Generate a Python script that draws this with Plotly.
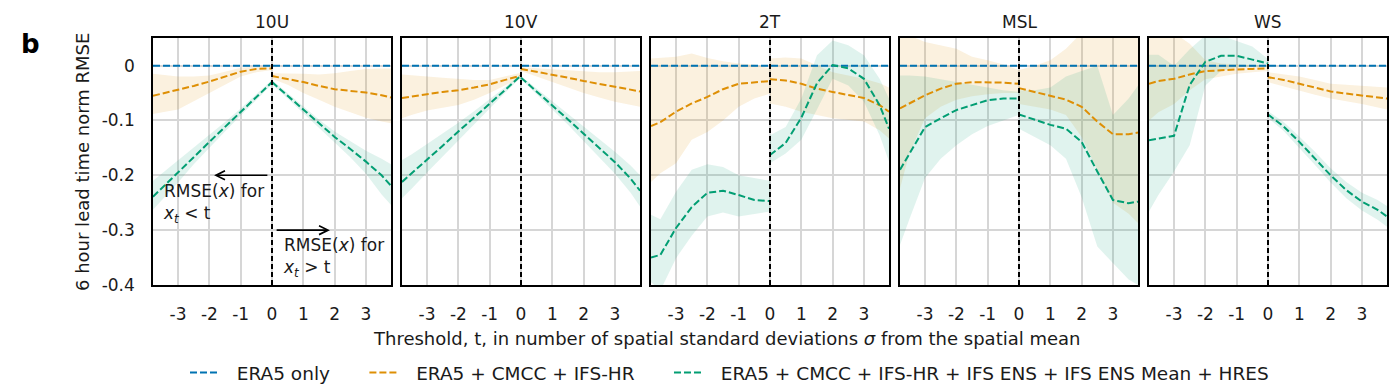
import plotly.graph_objects as go

# ---------------- data ----------------
PANELS = ["10U", "10V", "2T", "MSL", "WS"]
X_LEFT = [-3.8, -3.5, -3.0, -2.5, -2.0, -1.5, -1.0, -0.5, 0.0]
X_RIGHT = [0.0, 0.5, 1.0, 1.5, 2.0, 2.5, 3.0, 3.5, 3.8]
X_TICKS = [-3, -2, -1, 0, 1, 2, 3]
X_TICK_TEXT = ["-3", "-2", "-1", "0", "1", "2", "3"]
Y_TICKS = [0, -0.1, -0.2, -0.3, -0.4]
Y_TICK_TEXT = ["0", "-0.1", "-0.2", "-0.3", "-0.4"]
ERA5_ONLY = [0.0, 0.0]
ERA5_X = [-3.8, 3.8]

# each list: 9 left-side values (x_t < t) then 9 right-side values (x_t > t)
U10_CMCC = [-0.055, -0.051, -0.045, -0.037, -0.029, -0.020, -0.011, -0.006, -0.005,
            -0.019, -0.024, -0.030, -0.037, -0.043, -0.046, -0.049, -0.054, -0.058]
U10_CMCC_LO = [-0.088, -0.085, -0.080, -0.065, -0.050, -0.035, -0.020, -0.012, -0.008,
               -0.024, -0.035, -0.050, -0.062, -0.075, -0.085, -0.095, -0.102, -0.105]
U10_CMCC_HI = [-0.015, -0.017, -0.020, -0.020, -0.018, -0.011, -0.004, -0.002, -0.002,
               -0.014, -0.014, -0.015, -0.016, -0.014, -0.010, -0.006, -0.005, -0.005]
U10_ALL = [-0.239, -0.222, -0.195, -0.167, -0.139, -0.112, -0.085, -0.057, -0.030,
           -0.030, -0.055, -0.080, -0.105, -0.130, -0.152, -0.175, -0.200, -0.219]
U10_ALL_LO = [-0.263, -0.245, -0.213, -0.180, -0.150, -0.120, -0.091, -0.062, -0.034,
              -0.034, -0.060, -0.086, -0.113, -0.140, -0.167, -0.197, -0.235, -0.254]
U10_ALL_HI = [-0.210, -0.196, -0.173, -0.150, -0.126, -0.103, -0.078, -0.052, -0.026,
              -0.026, -0.050, -0.074, -0.098, -0.120, -0.138, -0.155, -0.170, -0.180]

V10_CMCC = [-0.059, -0.056, -0.052, -0.048, -0.045, -0.040, -0.034, -0.026, -0.018,
            -0.006, -0.011, -0.017, -0.022, -0.028, -0.033, -0.039, -0.044, -0.047]
V10_CMCC_LO = [-0.096, -0.090, -0.082, -0.077, -0.072, -0.062, -0.050, -0.036, -0.022,
               -0.010, -0.020, -0.030, -0.040, -0.050, -0.058, -0.066, -0.072, -0.075]
V10_CMCC_HI = [-0.016, -0.018, -0.020, -0.022, -0.024, -0.026, -0.026, -0.020, -0.013,
               -0.003, -0.005, -0.006, -0.008, -0.010, -0.012, -0.012, -0.010, -0.010]
V10_ALL = [-0.212, -0.197, -0.171, -0.146, -0.120, -0.095, -0.069, -0.044, -0.018,
           -0.022, -0.047, -0.072, -0.098, -0.124, -0.150, -0.176, -0.206, -0.228]
V10_ALL_LO = [-0.242, -0.225, -0.195, -0.166, -0.136, -0.107, -0.078, -0.049, -0.021,
              -0.025, -0.052, -0.080, -0.108, -0.137, -0.167, -0.197, -0.232, -0.257]
V10_ALL_HI = [-0.172, -0.162, -0.143, -0.124, -0.104, -0.083, -0.061, -0.039, -0.015,
              -0.019, -0.042, -0.065, -0.088, -0.111, -0.134, -0.157, -0.182, -0.200]

T2_CMCC = [-0.110, -0.103, -0.084, -0.069, -0.057, -0.043, -0.033, -0.030, -0.028,
           -0.025, -0.027, -0.033, -0.042, -0.048, -0.053, -0.059, -0.072, -0.084]
T2_CMCC_LO = [-0.212, -0.196, -0.178, -0.135, -0.121, -0.100, -0.075, -0.060, -0.051,
              -0.069, -0.075, -0.084, -0.090, -0.096, -0.099, -0.102, -0.118, -0.133]
T2_CMCC_HI = [0.013, 0.014, 0.016, 0.022, 0.014, 0.008, 0.004, 0.002, -0.005,
              0.013, 0.015, 0.013, 0.000, -0.012, -0.018, -0.024, -0.032, -0.040]
T2_ALL = [-0.350, -0.345, -0.296, -0.258, -0.232, -0.228, -0.236, -0.245, -0.247,
          -0.163, -0.141, -0.095, -0.032, 0.001, -0.005, -0.024, -0.072, -0.115]
T2_ALL_LO = [-0.395, -0.410, -0.351, -0.310, -0.275, -0.268, -0.275, -0.270, -0.266,
             -0.178, -0.160, -0.135, -0.080, -0.024, -0.036, -0.066, -0.127, -0.175]
T2_ALL_HI = [-0.272, -0.280, -0.230, -0.190, -0.180, -0.185, -0.200, -0.205, -0.210,
             -0.127, -0.112, -0.060, 0.019, 0.046, 0.037, 0.019, -0.024, -0.060]

MSL_CMCC = [-0.078, -0.069, -0.054, -0.042, -0.033, -0.030, -0.030, -0.031, -0.033,
            -0.041, -0.048, -0.056, -0.062, -0.075, -0.102, -0.125, -0.125, -0.122]
MSL_CMCC_LO = [-0.224, -0.160, -0.096, -0.075, -0.062, -0.056, -0.052, -0.050, -0.050,
               -0.070, -0.075, -0.080, -0.090, -0.130, -0.190, -0.250, -0.270, -0.287]
MSL_CMCC_HI = [0.060, 0.055, 0.043, 0.037, 0.031, 0.016, 0.010, 0.002, -0.008,
               -0.008, 0.000, 0.010, 0.031, 0.060, 0.060, 0.060, 0.060, 0.060]
MSL_ALL = [-0.190, -0.160, -0.112, -0.096, -0.081, -0.072, -0.063, -0.060, -0.060,
           -0.089, -0.099, -0.108, -0.115, -0.139, -0.193, -0.245, -0.251, -0.248]
MSL_ALL_LO = [-0.327, -0.280, -0.205, -0.170, -0.145, -0.125, -0.110, -0.100, -0.090,
              -0.115, -0.130, -0.145, -0.170, -0.240, -0.330, -0.360, -0.390, -0.400]
MSL_ALL_HI = [-0.018, -0.018, -0.020, -0.025, -0.030, -0.035, -0.040, -0.045, -0.048,
              -0.045, -0.045, -0.040, -0.020, -0.010, 0.000, -0.090, -0.060, -0.036]

WS_CMCC = [-0.033, -0.028, -0.024, -0.016, -0.010, -0.008, -0.007, -0.006, -0.005,
           -0.021, -0.026, -0.033, -0.040, -0.047, -0.051, -0.054, -0.058, -0.060]
WS_CMCC_LO = [-0.100, -0.085, -0.070, -0.045, -0.025, -0.020, -0.015, -0.012, -0.010,
              -0.030, -0.037, -0.045, -0.053, -0.060, -0.065, -0.070, -0.076, -0.080]
WS_CMCC_HI = [0.060, 0.060, 0.060, 0.040, 0.010, 0.004, 0.002, 0.001, 0.000,
              -0.012, -0.016, -0.020, -0.026, -0.033, -0.035, -0.037, -0.039, -0.040]
WS_ALL = [-0.136, -0.133, -0.128, -0.035, 0.007, 0.018, 0.018, 0.011, 0.004,
          -0.089, -0.111, -0.139, -0.169, -0.200, -0.227, -0.248, -0.263, -0.275]
WS_ALL_LO = [-0.266, -0.236, -0.193, -0.145, -0.036, -0.010, -0.003, -0.002, -0.002,
             -0.095, -0.119, -0.149, -0.181, -0.213, -0.242, -0.264, -0.281, -0.294]
WS_ALL_HI = [0.020, 0.020, 0.000, 0.030, 0.055, 0.055, 0.045, 0.035, 0.012,
             -0.083, -0.103, -0.129, -0.157, -0.187, -0.212, -0.232, -0.245, -0.256]

SERIES_NAMES = ["ERA5 only", "ERA5 + CMCC + IFS-HR",
                "ERA5 + CMCC + IFS-HR + IFS ENS + IFS ENS Mean + HRES"]

PANEL_DATA = [
    (U10_CMCC, U10_CMCC_LO, U10_CMCC_HI, U10_ALL, U10_ALL_LO, U10_ALL_HI),
    (V10_CMCC, V10_CMCC_LO, V10_CMCC_HI, V10_ALL, V10_ALL_LO, V10_ALL_HI),
    (T2_CMCC, T2_CMCC_LO, T2_CMCC_HI, T2_ALL, T2_ALL_LO, T2_ALL_HI),
    (MSL_CMCC, MSL_CMCC_LO, MSL_CMCC_HI, MSL_ALL, MSL_ALL_LO, MSL_ALL_HI),
    (WS_CMCC, WS_CMCC_LO, WS_CMCC_HI, WS_ALL, WS_ALL_LO, WS_ALL_HI),
]

# ---------------- style ----------------
BLUE = "#0173b2"
ORANGE = "#de8f05"
GREEN = "#029e73"
ORANGE_FILL = "rgba(222,143,5,0.13)"
GREEN_FILL = "rgba(2,158,115,0.12)"
FONT = "DejaVu Sans"
TXT = "#1a1a1a"
DASH = "7px,3px"
NB = "\u00a0"

W, H = 1400, 391
PANEL_LEFT = [153, 402, 651, 900, 1149]
PANEL_W = 238
Y_DOM = [1 - 285 / H, 1 - 38 / H]
X_RANGE = [-3.8, 3.8]
Y_RANGE = [-0.4, 0.0504]

fig = go.Figure()
n = len(X_LEFT)


def band(xs, lo, hi):
    return xs + xs[::-1], hi + lo[::-1]


def legend_label(name):
    return NB * 2 + name + NB * 5


for i, (cm, cm_lo, cm_hi, al, al_lo, al_hi) in enumerate(PANEL_DATA):
    xa = "x" if i == 0 else f"x{i + 1}"
    ya = "y" if i == 0 else f"y{i + 1}"
    # bands
    for (lo, hi, fc) in [(cm_lo, cm_hi, ORANGE_FILL), (al_lo, al_hi, GREEN_FILL)]:
        for sl, xs in [(slice(0, n), X_LEFT), (slice(n, 2 * n), X_RIGHT)]:
            bx, by = band(xs, lo[sl], hi[sl])
            fig.add_trace(go.Scatter(x=bx, y=by, fill="toself", fillcolor=fc,
                                     line=dict(width=0), mode="lines",
                                     hoverinfo="skip", showlegend=False,
                                     xaxis=xa, yaxis=ya))
    # ERA5 only
    fig.add_trace(go.Scatter(x=ERA5_X, y=ERA5_ONLY, mode="lines",
                             line=dict(color=BLUE, width=2, dash=DASH),
                             name=legend_label(SERIES_NAMES[0]), showlegend=(i == 0),
                             xaxis=xa, yaxis=ya))
    for vals, col, nm in [(cm, ORANGE, SERIES_NAMES[1]), (al, GREEN, SERIES_NAMES[2])]:
        xs = X_LEFT + [None] + X_RIGHT
        ys = vals[:n] + [None] + vals[n:]
        fig.add_trace(go.Scatter(x=xs, y=ys, mode="lines",
                                 line=dict(color=col, width=2, dash=DASH),
                                 name=legend_label(nm), showlegend=(i == 0),
                                 connectgaps=False, xaxis=xa, yaxis=ya))
    # vertical threshold line
    fig.add_shape(type="line", xref=xa, yref=f"{ya} domain", x0=0, x1=0, y0=0, y1=1,
                  line=dict(color="black", width=2, dash="5px,3px"), layer="above")

    left = PANEL_LEFT[i] / W
    right = (PANEL_LEFT[i] + PANEL_W) / W
    axkey = "xaxis" if i == 0 else f"xaxis{i + 1}"
    aykey = "yaxis" if i == 0 else f"yaxis{i + 1}"
    fig.update_layout({
        axkey: dict(domain=[left, right], range=X_RANGE, anchor=ya,
                    tickvals=X_TICKS, ticktext=X_TICK_TEXT,
                    showgrid=True, gridcolor="#d6d6d6", gridwidth=1.6,
                    showline=True, mirror=True, linecolor="black", linewidth=1.5,
                    zeroline=False, ticks="", ticklabelstandoff=13,
                    tickfont=dict(size=17, color=TXT, family=FONT)),
        aykey: dict(domain=Y_DOM, range=Y_RANGE, anchor=xa,
                    tickvals=Y_TICKS, ticktext=Y_TICK_TEXT,
                    showticklabels=(i == 0),
                    showgrid=True, gridcolor="#d6d6d6", gridwidth=1.6,
                    showline=True, mirror=True, linecolor="black", linewidth=1.5,
                    zeroline=False, ticks="", ticklabelstandoff=13,
                    tickfont=dict(size=17, color=TXT, family=FONT)),
    })
    # panel title
    fig.add_annotation(x=(left + right) / 2, y=1 - 22 / H, xref="paper", yref="paper",
                       xanchor="center", yanchor="middle",
                       text=PANELS[i], showarrow=False,
                       font=dict(size=17, color=TXT, family=FONT))

# arrows and explanatory text in first panel
fig.add_annotation(x=-1.85, y=-0.2, ax=-0.1, ay=-0.2, xref="x", yref="y",
                   axref="x", ayref="y", text="", showarrow=True,
                   arrowhead=5, arrowsize=1.1, arrowwidth=1.6, arrowcolor="black",
                   standoff=0, startstandoff=0)
fig.add_annotation(x=1.85, y=-0.3, ax=0.1, ay=-0.3, xref="x", yref="y",
                   axref="x", ayref="y", text="", showarrow=True,
                   arrowhead=5, arrowsize=1.1, arrowwidth=1.6, arrowcolor="black",
                   standoff=0, startstandoff=0)
NOTE_FONT = dict(size=17, color=TXT, family=FONT)
for xx, yy, txt in [(-3.55, -0.2515, "RMSE(<i>x</i>) for<br><i>x<sub>t</sub></i> &lt; t"),
                    (0.30, -0.3496, "RMSE(<i>x</i>) for<br><i>x<sub>t</sub></i> &gt; t")]:
    fig.add_annotation(x=xx, y=yy, xref="x", yref="y", xanchor="left", yanchor="middle",
                       align="left", showarrow=False, text=txt, font=NOTE_FONT)

# axis titles and panel letter
fig.add_annotation(x=82 / W, y=1 - 162 / H, xref="paper", yref="paper",
                   xanchor="center", yanchor="middle",
                   text="6 hour lead time norm RMSE", textangle=-90, showarrow=False,
                   font=dict(size=18, color=TXT, family=FONT))
fig.add_annotation(x=727 / W, y=1 - 338 / H, xref="paper", yref="paper",
                   xanchor="center", yanchor="middle",
                   text="Threshold, t, in number of spatial standard deviations <i>σ</i> from the spatial mean",
                   showarrow=False, font=dict(size=18, color=TXT, family=FONT))
fig.add_annotation(x=31 / W, y=1 - 44 / H, xref="paper", yref="paper",
                   xanchor="center", yanchor="middle",
                   text="<b>b</b>", showarrow=False,
                   font=dict(size=26, color="black", family=FONT))

fig.update_layout(
    width=W, height=H, autosize=False,
    margin=dict(l=0, r=0, t=0, b=0, autoexpand=False),
    paper_bgcolor="white", plot_bgcolor="white",
    font=dict(family=FONT, color=TXT, size=17),
    legend=dict(orientation="h", x=185 / W, y=1 - 373 / H, xanchor="left",
                yanchor="middle", font=dict(size=18.5, color=TXT, family=FONT),
                bgcolor="rgba(0,0,0,0)", itemwidth=30, tracegroupgap=0),
)

fig.write_html("out.html", config={"displayModeBar": False},
               post_script="document.body.style.margin='0';")
